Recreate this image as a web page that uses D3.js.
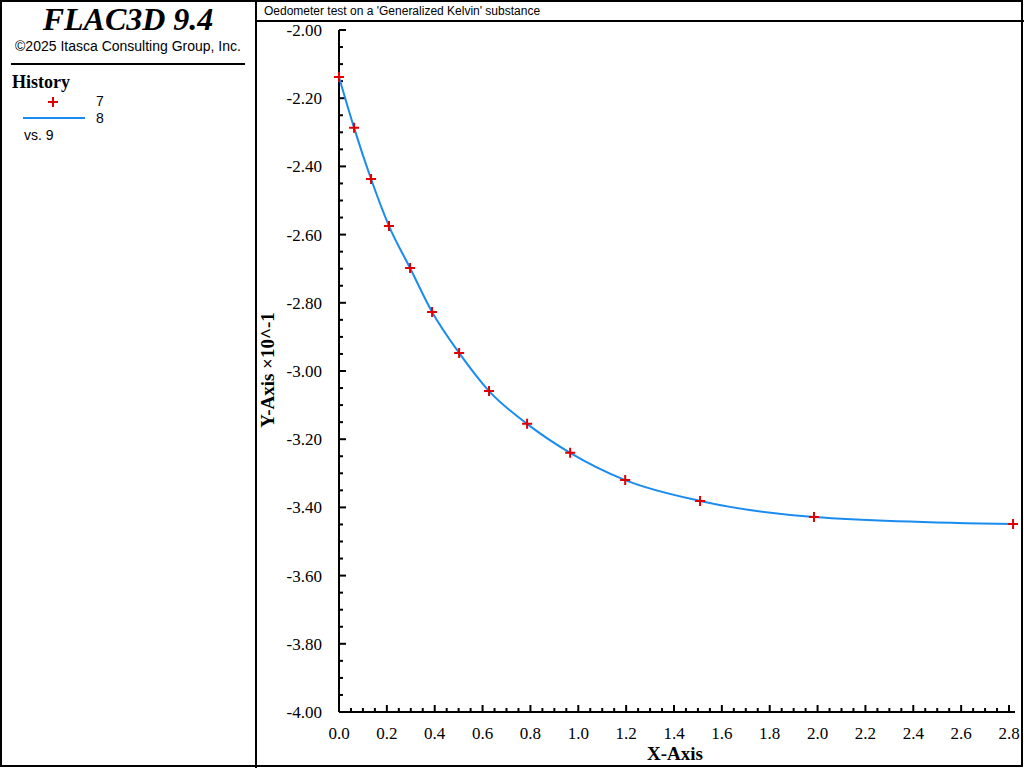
<!DOCTYPE html>
<html><head><meta charset="utf-8">
<script src="https://cdn.jsdelivr.net/npm/d3@7"></script>
<style>body{margin:0;background:#fff}svg{display:block}</style>
</head><body>
<script>
// history 7 (markers) and 8 (line) vs. history 9
const xs = [0, 0.063, 0.134, 0.209, 0.297, 0.389, 0.502, 0.627, 0.786, 0.966, 1.196, 1.509, 1.985, 2.817];
const ys = [-2.138, -2.287, -2.437, -2.575, -2.698, -2.827, -2.947, -3.059, -3.155, -3.240, -3.320, -3.381, -3.428, -3.449];
const xTicks = d3.range(0, 2.81, 0.2);
const yTicks = d3.range(-4, -1.99, 0.2);
const pts = xs.map((x, i) => ({x: x, y: ys[i]}));

const W = 1024, H = 768;
const svg = d3.select("body").append("svg").attr("width", W).attr("height", H);
const serif = "'Liberation Serif','Times New Roman',serif";
const sans = "'Liberation Sans',Arial,sans-serif";

// frames
svg.append("rect").attr("x", 1).attr("y", 1).attr("width", 1021).attr("height", 765)
    .attr("fill", "none").attr("stroke", "#000").attr("stroke-width", 2);
svg.append("line").attr("x1", 256).attr("x2", 256).attr("y1", 0).attr("y2", 768).attr("stroke", "#000").attr("stroke-width", 2);
svg.append("line").attr("x1", 256).attr("x2", 1024).attr("y1", 21).attr("y2", 21).attr("stroke", "#000").attr("stroke-width", 2);
svg.append("text").attr("x", 264).attr("y", 15).attr("font-family", sans).attr("font-size", 12)
    .text("Oedometer test on a 'Generalized Kelvin' substance");

// left panel
svg.append("text").attr("x", 128).attr("y", 30).attr("text-anchor", "middle").attr("font-family", serif)
    .attr("font-size", 32).attr("font-weight", "bold").attr("font-style", "italic").text("FLAC3D 9.4");
svg.append("text").attr("x", 128).attr("y", 51).attr("text-anchor", "middle").attr("font-family", sans)
    .attr("font-size", 14).text("©2025 Itasca Consulting Group, Inc.");
svg.append("line").attr("x1", 11).attr("x2", 245).attr("y1", 64).attr("y2", 64).attr("stroke", "#000").attr("stroke-width", 2);
svg.append("text").attr("x", 12).attr("y", 88).attr("font-family", serif).attr("font-size", 18).attr("font-weight", "bold").text("History");
svg.append("path").attr("d", "M48,102h10M53,97v10").attr("stroke", "#e00000").attr("stroke-width", 2);
svg.append("text").attr("x", 96).attr("y", 106).attr("font-family", sans).attr("font-size", 14).text("7");
svg.append("line").attr("x1", 23).attr("x2", 85).attr("y1", 118).attr("y2", 118).attr("stroke", "#1a8cf0").attr("stroke-width", 2);
svg.append("text").attr("x", 96).attr("y", 123).attr("font-family", sans).attr("font-size", 14).text("8");
svg.append("text").attr("x", 24).attr("y", 140).attr("font-family", sans).attr("font-size", 14).text("vs. 9");

// scales
const x = d3.scaleLinear().domain([0, 2.8]).range([339, 1009]);
const y = d3.scaleLinear().domain([-4, -2]).range([712, 30]);

// y axis
const yAxis = svg.append("g").attr("transform", "translate(339,0)");
yAxis.append("line").attr("y1", 30).attr("y2", 712).attr("stroke", "#000").attr("stroke-width", 2);
d3.range(-4, -1.99, 0.05).forEach(v => {
    const major = Math.abs(Math.round(v * 5) - v * 5) < 1e-6;
    yAxis.append("line").attr("x1", 0).attr("x2", major ? 7 : 4).attr("y1", y(v)).attr("y2", y(v))
        .attr("stroke", "#000").attr("stroke-width", 2);
});
yTicks.forEach(v => {
    yAxis.append("text").attr("x", -17).attr("y", y(v) + 6).attr("text-anchor", "end")
        .attr("font-family", serif).attr("font-size", 17).text(v.toFixed(2));
});
svg.append("text").attr("transform", "translate(274,370) rotate(-90)").attr("text-anchor", "middle")
    .attr("font-family", serif).attr("font-size", 19).attr("font-weight", "bold").text("Y-Axis ×10^-1");

// x axis
const xAxis = svg.append("g").attr("transform", "translate(0,712)");
xAxis.append("line").attr("x1", 339).attr("x2", 1015).attr("stroke", "#000").attr("stroke-width", 2);
d3.range(0, 2.83, 0.05).forEach(v => {
    const major = Math.abs(Math.round(v * 5) - v * 5) < 1e-6;
    xAxis.append("line").attr("x1", x(v)).attr("x2", x(v)).attr("y1", 0).attr("y2", major ? -7 : -4)
        .attr("stroke", "#000").attr("stroke-width", 2);
});
xTicks.forEach(v => {
    xAxis.append("text").attr("x", x(v)).attr("y", 27).attr("text-anchor", "middle")
        .attr("font-family", serif).attr("font-size", 17).text(v.toFixed(1));
});
svg.append("text").attr("x", 675).attr("y", 760).attr("text-anchor", "middle")
    .attr("font-family", serif).attr("font-size", 19).attr("font-weight", "bold").text("X-Axis");

// line
svg.append("path").datum(pts).attr("fill", "none").attr("stroke", "#1a8cf0").attr("stroke-width", 2)
    .attr("d", d3.line().x(d => x(d.x)).y(d => y(d.y)).curve(d3.curveMonotoneX));

// markers
svg.selectAll("path.mk").data(pts).enter().append("path").attr("class", "mk")
    .attr("d", d => `M${x(d.x) - 5},${y(d.y)}h10M${x(d.x)},${y(d.y) - 5}v10`)
    .attr("stroke", "#e00000").attr("stroke-width", 2);
</script>
</body></html>
